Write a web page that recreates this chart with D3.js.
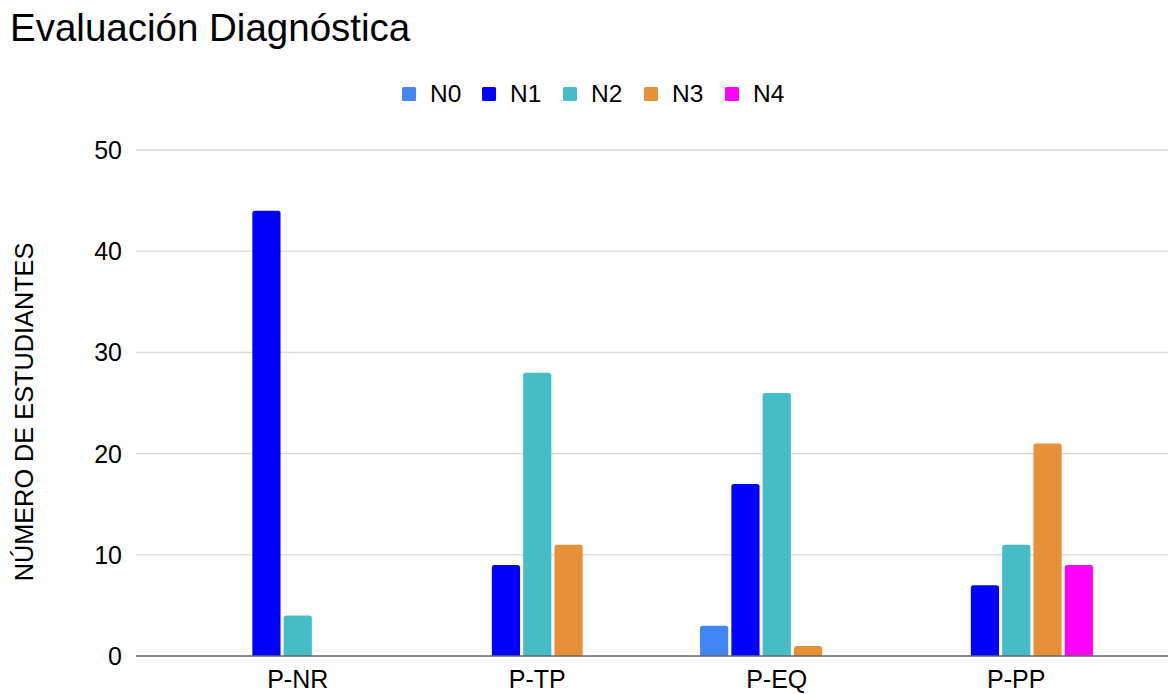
<!DOCTYPE html>
<html>
<head>
<meta charset="utf-8">
<script src="https://cdn.jsdelivr.net/npm/d3@7"></script>
<style>
  body { margin: 0; background: #fff; }
  text { font-family: "Liberation Sans", Arial, sans-serif; fill: #000; }
</style>
</head>
<body>
<div id="chart"></div>
<script>
// categories, series and values
const categories = ["P-NR", "P-TP", "P-EQ", "P-PP"];
const seriesNames = ["N0", "N1", "N2", "N3", "N4"];
const N0 = [0, 0, 3, 0];
const N1 = [44, 9, 17, 7];
const N2 = [4, 28, 26, 11];
const N3 = [0, 11, 1, 21];
const N4 = [0, 0, 0, 9];
const yTicks = [0, 10, 20, 30, 40, 50];
const colors = ["#4285f4", "#0000ff", "#46bdc6", "#e69138", "#ff00ff"];

const values = [N0, N1, N2, N3, N4];
const rows = categories.map((c, i) => ({
  cat: c,
  vals: seriesNames.map((s, j) => ({ key: s, value: values[j][i] }))
}));

const width = 1169, height = 694;
const plotLeft = 136, plotRight = 1168;

const svg = d3.select("#chart").append("svg")
  .attr("width", width)
  .attr("height", height);

// Title
svg.append("text")
  .attr("x", 10)
  .attr("y", 41)
  .attr("font-size", 38.5)
  .text("Evaluación Diagnóstica");

// Y scale
const y = d3.scaleLinear()
  .domain([0, 50])
  .range([656, 150]);

// X scales
const x0 = d3.scaleBand()
  .domain(categories)
  .range([178, 1136]);

const groupW = 153.4;
const x1 = d3.scaleBand()
  .domain(seriesNames)
  .range([(x0.bandwidth() - groupW) / 2, (x0.bandwidth() + groupW) / 2])
  .paddingInner(0.1);

// Gridlines
svg.append("g")
  .selectAll("line")
  .data(yTicks.filter(d => d > 0))
  .enter().append("line")
  .attr("x1", plotLeft)
  .attr("x2", plotRight)
  .attr("y1", d => y(d))
  .attr("y2", d => y(d))
  .attr("stroke", "#d9d9d9")
  .attr("stroke-width", 1.3);

// Y tick labels
svg.append("g")
  .selectAll("text")
  .data(yTicks)
  .enter().append("text")
  .attr("x", 122)
  .attr("y", d => y(d))
  .attr("dy", "0.36em")
  .attr("text-anchor", "end")
  .attr("font-size", 25)
  .text(d => d);

// Y axis label
svg.append("text")
  .attr("transform", "rotate(-90)")
  .attr("x", -412)
  .attr("y", 33)
  .attr("text-anchor", "middle")
  .attr("font-size", 25.3)
  .text("NÚMERO DE ESTUDIANTES");

// Bars
const groups = svg.append("g")
  .selectAll("g")
  .data(rows)
  .enter().append("g")
  .attr("transform", d => `translate(${x0(d.cat)},0)`);

groups.selectAll("path")
  .data(d => d.vals.filter(v => v.value > 0))
  .enter().append("path")
  .attr("fill", d => colors[seriesNames.indexOf(d.key)])
  .attr("d", d => {
    const bx = x1(d.key), bw = x1.bandwidth();
    const top = y(d.value), bot = y(0);
    const r = Math.min(2.5, (bot - top) / 2);
    return `M${bx},${bot} V${top + r} Q${bx},${top} ${bx + r},${top} ` +
      `H${bx + bw - r} Q${bx + bw},${top} ${bx + bw},${top + r} V${bot} Z`;
  });

// Baseline
svg.append("line")
  .attr("x1", plotLeft)
  .attr("x2", plotRight)
  .attr("y1", y(0))
  .attr("y2", y(0))
  .attr("stroke", "#666")
  .attr("stroke-width", 1.5);

// Category labels
svg.append("g")
  .selectAll("text")
  .data(categories)
  .enter().append("text")
  .attr("x", d => x0(d) + x0.bandwidth() / 2)
  .attr("y", 688)
  .attr("text-anchor", "middle")
  .attr("font-size", 25)
  .text(d => d);

// Legend
const legendX = [402, 482, 563, 644, 725];
const legend = svg.append("g")
  .selectAll("g")
  .data(seriesNames)
  .enter().append("g")
  .attr("transform", (d, i) => `translate(${legendX[i]},0)`);

legend.append("rect")
  .attr("x", 0)
  .attr("y", 87)
  .attr("width", 14)
  .attr("height", 14)
  .attr("rx", 1.5)
  .attr("fill", (d, i) => colors[i]);

legend.append("text")
  .attr("x", 28)
  .attr("y", 102)
  .attr("font-size", 24.5)
  .text(d => d);
</script>
</body>
</html>
